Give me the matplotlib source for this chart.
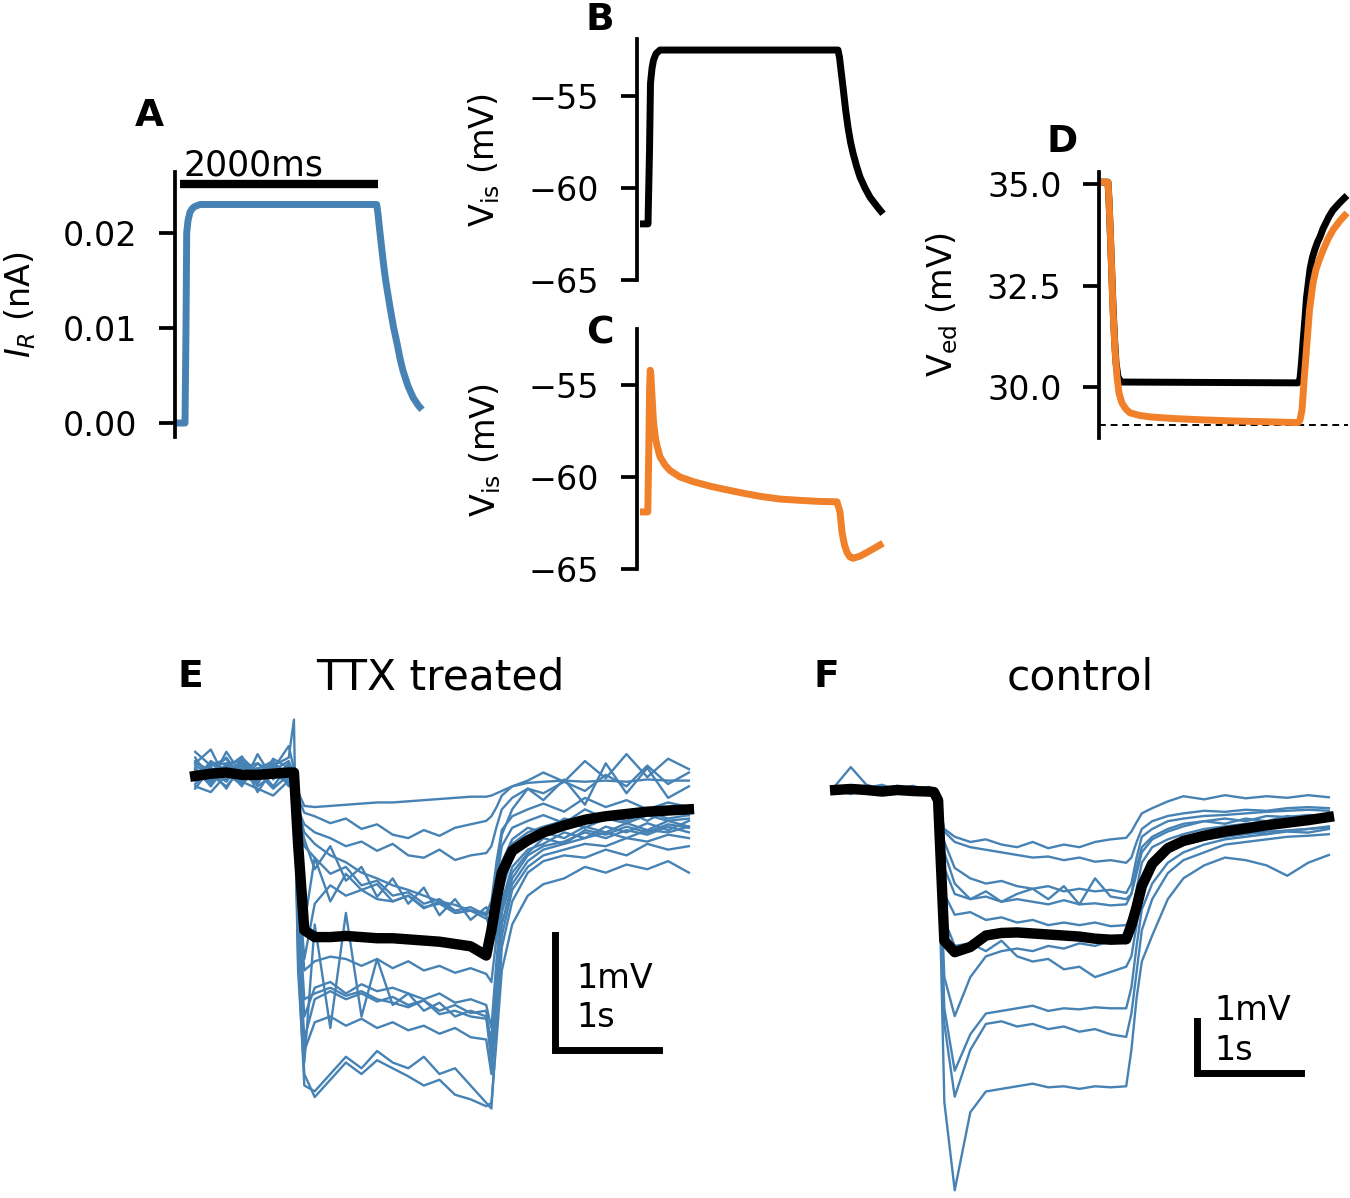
import matplotlib
matplotlib.use('Agg')
import matplotlib.pyplot as plt

plt.rcParams['font.family'] = ['DejaVu Sans']
plt.rcParams['mathtext.fontset'] = 'dejavusans'

BLUE = '#4682b4'
ORANGE = '#f0802a'

# ---------------- data ----------------
# Panel A: current I_R (nA) vs time (ms)
A_t = [10, 100, 110, 117, 130, 150, 175, 200, 250, 2017, 2030, 2050, 2080, 2100,
       2125, 2150, 2185, 2220, 2250, 2280, 2330, 2380, 2430, 2470]
A_I = [0, 0, 0.010, 0.020, 0.0213, 0.0222, 0.0226, 0.0228, 0.0230, 0.0230, 0.0220,
       0.0200, 0.0172, 0.0155, 0.0138, 0.0122, 0.0101, 0.0084, 0.0068, 0.0055,
       0.0039, 0.0027, 0.0019, 0.0014]
A_bar = [50, 2030]

# Panel B: V_is (mV)
B_t = [30, 110, 125, 135, 150, 165, 190, 230, 2010, 2025, 2040, 2060, 2085, 2110,
       2135, 2160, 2195, 2230, 2280, 2330, 2400, 2460]
B_v = [-61.95, -61.95, -58.0, -54.3, -53.5, -53.05, -52.7, -52.5, -52.5, -52.9,
       -53.6, -54.5, -55.7, -56.7, -57.5, -58.1, -58.8, -59.4, -60.0, -60.5, -61.0,
       -61.4]

# Panel C: V_is (mV)
C_t = [30, 108, 118, 126, 132, 138, 150, 165, 185, 200, 230, 280, 330, 430, 560,
       730, 900, 1080, 1230, 1430, 1630, 1830, 2000, 2030, 2050, 2075, 2100, 2130,
       2160, 2230, 2300, 2380, 2460]
C_v = [-61.9, -61.9, -58.5, -55.2, -54.2, -54.4, -55.6, -57.0, -57.9, -58.3, -58.9,
       -59.35, -59.65, -60.0, -60.25, -60.5, -60.7, -60.9, -61.05, -61.2, -61.27,
       -61.33, -61.35, -61.9, -63.0, -63.7, -64.1, -64.35, -64.42, -64.3, -64.1,
       -63.85, -63.6]

# Panel D: V_ed (mV)
D_t_black = [10, 90, 100, 110, 125, 140, 155, 170, 190, 220, 1990, 2010, 2025, 2040,
             2060, 2075, 2090, 2110, 2135, 2160, 2185, 2210, 2240, 2270, 2300, 2340,
             2410, 2480]
D_black = [35.05, 35.05, 34.6, 34.0, 33.0, 32.0, 31.2, 30.6, 30.25, 30.12, 30.1, 30.2,
           30.6, 31.1, 31.7, 32.2, 32.5, 32.9, 33.2, 33.4, 33.57, 33.7, 33.9, 34.05,
           34.2, 34.36, 34.55, 34.72]
D_t_orange = [10, 90, 100, 110, 125, 140, 160, 180, 200, 230, 270, 310, 400, 510, 750,
              1010, 1350, 1680, 1990, 2010, 2030, 2055, 2080, 2105, 2140, 2170, 2205,
              2240, 2290, 2340, 2410, 2480]
D_orange = [35.05, 35.05, 34.6, 34.0, 33.0, 31.9, 30.9, 30.25, 29.85, 29.6, 29.45,
            29.36, 29.3, 29.26, 29.22, 29.19, 29.16, 29.14, 29.12, 29.18, 29.43, 30.3,
            31.1, 31.9, 32.56, 32.9, 33.15, 33.37, 33.65, 33.87, 34.1, 34.29]
D_rest = 29.06

# Panels E/F: recordings, time (s) and voltage (mV)
T = [0.05, 0.2, 0.35, 0.5, 0.65, 0.8, 0.95, 1.0, 1.04, 1.1, 1.2, 1.35, 1.5, 1.65,
     1.8, 1.95, 2.1, 2.25, 2.4, 2.55, 2.7, 2.85, 2.9, 2.95, 3.0, 3.1, 3.25, 3.4,
     3.6, 3.8, 4.0, 4.2, 4.4, 4.6, 4.8]

ttx_mean = [-0.01, 0.01, 0.02, 0.0, 0.0, 0.01, 0.02, 0.02, -0.6,
            -1.35, -1.41, -1.41, -1.40, -1.41, -1.42, -1.42, -1.43, -1.44, -1.45, -1.47, -1.49, -1.57,
            -1.35, -1.08, -0.85, -0.66, -0.57, -0.5, -0.44, -0.39, -0.36, -0.34, -0.32, -0.31, -0.3]
ttx_01 = [0.05, -0.02, 0.08, 0.0, -0.05, 0.03, 0.0, 0.02, -0.15,
          -0.27, -0.28, -0.27, -0.26, -0.25, -0.24, -0.24, -0.23, -0.22, -0.21, -0.2, -0.19, -0.19,
          -0.18, -0.16, -0.14, -0.1, -0.07, -0.06, -0.05, -0.06, -0.05, -0.06, -0.04, -0.05, -0.05]
ttx_02 = [0.12, 0.02, 0.15, -0.04, 0.06, -0.1, 0.08, 0.05, -0.2,
          -0.33, -0.36, -0.42, -0.38, -0.47, -0.43, -0.52, -0.55, -0.48, -0.53, -0.46, -0.43, -0.4,
          -0.36, -0.28, -0.18, -0.1, -0.05, 0.02, -0.06, 0.12, -0.03, 0.18, -0.02, 0.14, 0.05]
ttx_03 = [-0.08, 0.05, -0.12, 0.1, -0.02, 0.06, -0.06, 0.0, -0.3,
          -0.43, -0.5, -0.55, -0.62, -0.58, -0.66, -0.6, -0.7, -0.72, -0.65, -0.74, -0.7, -0.68,
          -0.62, -0.45, -0.3, -0.2, -0.12, -0.16, -0.06, -0.14, 0.0, -0.1, 0.08, -0.08, 0.02]
ttx_04 = [0.2, 0.08, 0.1, 0.12, -0.15, 0.05, 0.25, 0.05, -0.3,
          -0.5, -0.6, -0.7, -0.76, -0.85, -0.9, -0.96, -1.0, -1.05, -1.1, -1.13, -1.18, -1.2,
          -1.1, -0.75, -0.48, -0.36, -0.3, -0.25, -0.32, -0.2, -0.28, -0.22, -0.3, -0.24, -0.28]
ttx_05 = [-0.1, -0.15, 0.0, -0.06, -0.12, -0.18, -0.05, -0.08, -0.35,
          -0.56, -0.82, -0.62, -0.92, -0.8, -1.06, -0.9, -1.12, -0.98, -1.22, -1.08, -1.26, -1.15,
          -1.2, -0.82, -0.52, -0.3, -0.12, -0.22, -0.04, -0.26, 0.1, -0.16, 0.06, -0.2, -0.1]
ttx_06 = [0.1, 0.22, -0.05, 0.15, 0.02, 0.1, -0.1, 0.08, -0.4,
          -0.62, -0.72, -0.86, -0.8, -0.96, -0.92, -1.05, -1.02, -1.12, -1.08, -1.18, -1.15, -1.22,
          -1.16, -0.92, -0.62, -0.46, -0.4, -0.35, -0.42, -0.3, -0.38, -0.32, -0.4, -0.3, -0.35]
ttx_07 = [-0.05, 0.12, 0.04, -0.1, 0.18, -0.04, 0.1, -0.02, -0.8,
          -1.3, -0.72, -1.1, -0.86, -1.0, -0.95, -1.1, -1.05, -1.16, -1.1, -1.2, -1.18, -1.25,
          -1.3, -1.02, -0.76, -0.56, -0.46, -0.5, -0.38, -0.42, -0.35, -0.4, -0.32, -0.38, -0.35]
ttx_08 = [0.02, -0.08, 0.1, 0.04, -0.02, 0.08, 0.03, 0.0, -0.9,
          -1.6, -1.12, -0.96, -1.05, -1.0, -1.08, -1.1, -1.05, -1.15, -1.12, -1.2, -1.18, -1.22,
          -1.4, -1.1, -0.8, -0.6, -0.5, -0.45, -0.4, -0.46, -0.38, -0.42, -0.35, -0.4, -0.38]
ttx_09 = [0.08, 0.0, -0.1, 0.06, 0.1, -0.02, 0.04, 0.02, -1.0,
          -1.7, -1.62, -1.58, -1.6, -1.66, -1.6, -1.68, -1.62, -1.7, -1.66, -1.72, -1.68, -1.73,
          -1.8, -1.4, -1.0, -0.72, -0.56, -0.5, -0.55, -0.45, -0.5, -0.42, -0.48, -0.4, -0.45]
ttx_10 = [-0.12, 0.06, 0.0, -0.08, 0.05, 0.12, -0.04, 0.03, -1.2,
          -2.1, -1.85, -1.8, -1.9, -1.82, -1.88, -1.85, -1.9, -1.95, -1.9, -1.98, -1.95, -2.0,
          -2.2, -1.6, -1.1, -0.8, -0.65, -0.6, -0.5, -0.55, -0.45, -0.5, -0.42, -0.48, -0.4]
ttx_11 = [0.15, -0.05, 0.2, 0.0, -0.08, 0.14, 0.06, 0.04, -1.3,
          -2.3, -1.95, -1.88, -1.95, -1.9, -1.97, -1.93, -2.0, -1.96, -2.05, -2.0, -2.07, -2.05,
          -2.4, -1.8, -1.2, -0.9, -0.7, -0.62, -0.58, -0.5, -0.55, -0.48, -0.52, -0.45, -0.5]
ttx_12 = [-0.04, 0.1, 0.02, 0.08, -0.06, 0.04, 0.12, 0.0, -1.5,
          -2.5, -1.3, -2.2, -1.2, -2.1, -1.6, -2.0, -1.9, -2.05, -1.98, -2.1, -2.05, -2.1,
          -2.5, -1.9, -1.3, -0.95, -0.75, -0.65, -0.6, -0.55, -0.5, -0.55, -0.48, -0.5, -0.45]
ttx_13 = [0.06, -0.1, 0.08, -0.04, 0.02, -0.12, 0.0, -0.03, -1.4,
          -2.4, -2.15, -2.1, -2.18, -2.12, -2.2, -2.15, -2.22, -2.18, -2.25, -2.2, -2.28, -2.3,
          -2.6, -2.0, -1.4, -1.0, -0.8, -0.7, -0.65, -0.6, -0.62, -0.55, -0.58, -0.52, -0.55]
ttx_14 = [0.1, 0.04, -0.06, 0.12, 0.0, 0.08, 0.15, 0.48, -1.6,
          -2.7, -2.75, -2.6, -2.45, -2.55, -2.4, -2.5, -2.55, -2.45, -2.6, -2.55, -2.7, -2.85,
          -2.9, -2.2, -1.5, -1.1, -0.85, -0.75, -0.7, -0.72, -0.65, -0.7, -0.6, -0.65, -0.62]
ttx_15 = [-0.02, 0.08, 0.14, -0.06, 0.1, 0.02, -0.08, 0.06, -1.7,
          -2.6, -2.8, -2.65, -2.5, -2.6, -2.48, -2.55, -2.62, -2.7, -2.65, -2.78, -2.82, -2.88,
          -2.85, -2.3, -1.7, -1.3, -1.05, -0.95, -0.9, -0.8, -0.85, -0.78, -0.82, -0.75, -0.85]
ttx_16 = [0.04, -0.06, 0.06, 0.16, -0.1, 0.0, 0.05, -0.05, -1.1,
          -1.95, -1.9, -1.85, -1.92, -1.88, -1.95, -1.98, -2.02, -1.96, -2.08, -2.05, -2.1, -2.12,
          -2.3, -1.7, -1.15, -0.85, -0.68, -0.55, -0.6, -0.48, -0.52, -0.45, -0.5, -0.43, -0.46]

ctl_mean = [0.0, 0.02, 0.0, -0.03, 0.0, -0.02, -0.03, -0.04, -0.2,
            -2.9, -3.12, -3.02, -2.8, -2.75, -2.74, -2.76, -2.78, -2.8, -2.82, -2.86, -2.88, -2.87,
            -2.6, -2.25, -1.85, -1.42, -1.12, -0.98, -0.88, -0.8, -0.74, -0.68, -0.63, -0.58, -0.52]
ctl_01 = [0.02, -0.05, 0.08, 0.0, 0.05, -0.04, 0.03, -0.02, -0.2,
          -0.75, -0.9, -1.0, -0.95, -1.05, -1.1, -1.0, -1.12, -1.05, -1.1, -1.0, -0.95, -0.92,
          -0.8, -0.62, -0.45, -0.35, -0.22, -0.12, -0.18, -0.1, -0.16, -0.12, -0.15, -0.1, -0.14]
ctl_02 = [-0.05, 0.04, -0.02, 0.06, -0.06, 0.02, -0.04, -0.06, -0.2,
          -0.8, -1.0, -1.1, -1.15, -1.2, -1.25, -1.3, -1.28, -1.35, -1.3, -1.38, -1.35, -1.4,
          -1.3, -1.0, -0.75, -0.6, -0.5, -0.45, -0.4, -0.42, -0.38, -0.4, -0.35, -0.33, -0.35]
ctl_03 = [0.08, 0.44, 0.1, 0.02, -0.06, 0.04, 0.0, 0.02, -0.3,
          -1.2, -1.8, -2.1, -1.95, -2.15, -2.0, -1.9, -2.1, -1.85, -2.2, -1.7, -2.05, -2.1,
          -2.0, -1.6, -1.2, -0.95, -0.8, -0.7, -0.6, -0.65, -0.55, -0.6, -0.5, -0.55, -0.5]
ctl_04 = [-0.04, 0.02, 0.06, -0.08, 0.03, -0.02, 0.05, 0.0, -0.3,
          -1.5, -2.0, -2.1, -2.05, -2.15, -2.1, -2.15, -2.2, -2.12, -2.2, -2.18, -2.22, -2.2,
          -2.0, -1.5, -1.1, -0.9, -0.75, -0.65, -0.6, -0.55, -0.6, -0.5, -0.52, -0.48, -0.5]
ctl_05 = [0.0, -0.08, 0.04, 0.1, 0.0, 0.06, -0.05, 0.03, -0.4,
          -2.0, -2.4, -2.35, -2.5, -2.45, -2.55, -2.5, -2.6, -2.55, -2.6, -2.55, -2.62, -2.6,
          -2.4, -1.9, -1.4, -1.1, -0.95, -0.85, -0.75, -0.7, -0.65, -0.6, -0.62, -0.55, -0.52]
ctl_06 = [0.05, 0.0, -0.06, 0.04, 0.08, -0.03, 0.02, -0.04, -0.4,
          -2.5, -3.0, -2.95, -3.1, -2.9, -3.2, -3.3, -3.25, -3.45, -3.4, -3.6, -3.5, -3.4,
          -3.2, -2.6, -1.9, -1.5, -1.2, -1.05, -0.95, -0.85, -0.8, -0.85, -0.78, -0.75, -0.72]
ctl_07 = [-0.06, 0.05, 0.0, -0.03, 0.06, 0.02, -0.02, 0.01, -0.5,
          -3.6, -4.35, -3.6, -3.2, -3.1, -3.05, -3.1, -3.0, -3.05, -2.95, -3.0, -2.9, -2.95,
          -2.8, -2.3, -1.8, -1.45, -1.2, -1.05, -0.95, -0.9, -0.85, -0.8, -0.78, -0.75, -0.7]
ctl_08 = [0.03, 0.08, -0.04, 0.0, -0.05, 0.05, 0.04, -0.02, -0.6,
          -4.2, -5.4, -4.7, -4.3, -4.25, -4.2, -4.15, -4.25, -4.2, -4.22, -4.18, -4.2, -4.2,
          -3.8, -3.0, -2.3, -1.8, -1.4, -1.2, -1.05, -0.95, -0.9, -0.85, -0.8, -0.82, -0.75]
ctl_09 = [-0.02, -0.06, 0.05, 0.03, -0.04, 0.0, 0.06, 0.02, -0.7,
          -4.5, -5.9, -5.0, -4.5, -4.45, -4.55, -4.5, -4.6, -4.55, -4.65, -4.6, -4.7, -4.75,
          -4.3, -3.5, -2.7, -2.1, -1.6, -1.35, -1.2, -1.05, -1.0, -0.95, -0.9, -0.88, -0.85]
ctl_10 = [0.04, -0.02, 0.02, -0.05, 0.03, 0.08, -0.03, 0.0, -0.8,
          -6.0, -7.7, -6.2, -5.8, -5.75, -5.7, -5.65, -5.72, -5.7, -5.75, -5.7, -5.72, -5.7,
          -5.0, -4.0, -3.3, -2.8, -2.1, -1.7, -1.45, -1.3, -1.35, -1.45, -1.65, -1.4, -1.25]
ctl_11 = [0.06, 0.0, 0.04, -0.04, -0.02, 0.05, 0.0, -0.05, -0.3,
          -1.0, -1.5, -1.7, -1.8, -1.75, -1.85, -1.9, -1.85, -1.95, -1.9, -1.95, -1.92, -1.98,
          -1.8, -1.3, -0.9, -0.75, -0.6, -0.55, -0.5, -0.48, -0.45, -0.42, -0.4, -0.38, -0.4]

ttx_traces = [ttx_01, ttx_02, ttx_03, ttx_04, ttx_05, ttx_06, ttx_07, ttx_08,
              ttx_09, ttx_10, ttx_11, ttx_12, ttx_13, ttx_14, ttx_15, ttx_16]
ctl_traces = [ctl_01, ctl_02, ctl_03, ctl_04, ctl_05, ctl_06, ctl_07, ctl_08,
              ctl_09, ctl_10, ctl_11]

# ---------------- figure ----------------
W, H = 1350, 1198
fig = plt.figure(figsize=(W / 100, H / 100), dpi=100)
fig.patch.set_facecolor('white')


def axpx(l, r, t, b):
    return fig.add_axes([l / W, 1 - b / H, (r - l) / W, (b - t) / H])


def style(ax, ticks, labels):
    for s in ['top', 'right', 'bottom']:
        ax.spines[s].set_visible(False)
    ax.spines['left'].set_linewidth(2.7)
    ax.set_xticks([])
    ax.set_yticks(ticks)
    ax.set_yticklabels(labels)
    ax.tick_params(axis='y', length=11.5, width=2.7, pad=15.5, labelsize=24)
    ax.patch.set_alpha(0)


def ftext(x, y, s, **kw):
    fig.text(x / W, 1 - y / H, s, **kw)


LW = 5.0
KW = dict(lw=LW, solid_joinstyle='round', solid_capstyle='butt', clip_on=False)

# A
axA = axpx(175, 422, 172, 437)
axA.plot(A_t, A_I, color=BLUE, **KW)
axA.plot(A_bar, [0.0252, 0.0252], color='k', lw=6, solid_capstyle='butt', clip_on=False)
axA.text(90, 0.0261, '2000ms', fontsize=25, ha='left', va='baseline')
axA.set_xlim(0, 2470)
axA.set_ylim(-0.00147, 0.02642)
style(axA, [0.0, 0.01, 0.02], ['0.00', '0.01', '0.02'])

# B
axB = axpx(637, 883, 39, 280)
axB.plot(B_t, B_v, color='k', **KW)
axB.set_xlim(0, 2460)
axB.set_ylim(-65, -51.9)
style(axB, [-65, -60, -55], ['\u221265', '\u221260', '\u221255'])

# C
axC = axpx(637, 883, 329, 569)
axC.plot(C_t, C_v, color=ORANGE, **KW)
axC.set_xlim(0, 2460)
axC.set_ylim(-65, -51.96)
style(axC, [-65, -60, -55], ['\u221265', '\u221260', '\u221255'])

# D
axD = axpx(1099, 1348, 172, 438)
axD.axhline(D_rest, color='k', lw=1.4, ls=(0, (3.5, 2.5)))
axD.plot(D_t_black, D_black, color='k', **KW)
axD.plot(D_t_orange, D_orange, color=ORANGE, **KW)
axD.set_xlim(0, 2490)
axD.set_ylim(28.74, 35.3)
style(axD, [30.0, 32.5, 35.0], ['30.0', '32.5', '35.0'])

# y labels
ftext(20, 305, '$I_R$ (nA)', rotation=90, ha='center', va='center', fontsize=24)
ftext(484, 160, 'V$_\\mathrm{is}$ (mV)', rotation=90, ha='center', va='center', fontsize=24)
ftext(485, 450, 'V$_\\mathrm{is}$ (mV)', rotation=90, ha='center', va='center', fontsize=24)
ftext(942, 305, 'V$_\\mathrm{ed}$ (mV)', rotation=90, ha='center', va='center', fontsize=24)

# panel letters
for (x, y, s) in [(149, 116, 'A'), (600, 20, 'B'), (600, 333, 'C'), (1062, 142, 'D'),
                  (190, 677, 'E'), (826, 677, 'F')]:
    ftext(x, y, s, ha='center', va='center', fontsize=27, fontweight='bold')

ftext(440, 677, 'TTX treated', ha='center', va='center', fontsize=30.5)
ftext(1080, 677, 'control', ha='center', va='center', fontsize=30.5)

# E
axE = axpx(190, 692, 715, 1112)
for tr in ttx_traces:
    axE.plot(T, tr, color=BLUE, lw=1.7, clip_on=False)
axE.plot(T, ttx_mean, color='k', lw=7.5, solid_joinstyle='round', clip_on=False)
axE.plot([3.51, 3.51, 4.51], [-1.39, -2.39, -2.39], color='k', lw=5,
         solid_joinstyle='miter', solid_capstyle='projecting', clip_on=False)
axE.text(3.72, -1.85, '1mV', fontsize=24, ha='left', va='baseline')
axE.text(3.72, -2.19, '1s', fontsize=24, ha='left', va='baseline')
axE.set_xlim(0, 4.83)
axE.set_ylim(-2.93, 0.52)
axE.axis('off')

# F
axF = axpx(830, 1332, 760, 1197)
for tr in ctl_traces:
    axF.plot(T, tr, color=BLUE, lw=1.7, clip_on=False)
axF.plot(T, ctl_mean, color='k', lw=7.5, solid_joinstyle='round', clip_on=False)
axF.plot([3.53, 3.53, 4.53], [-4.44, -5.44, -5.44], color='k', lw=5,
         solid_joinstyle='miter', solid_capstyle='projecting', clip_on=False)
axF.text(3.70, -4.42, '1mV', fontsize=24, ha='left', va='baseline')
axF.text(3.70, -5.19, '1s', fontsize=24, ha='left', va='baseline')
axF.set_xlim(0, 4.83)
axF.set_ylim(-7.83, 0.577)
axF.axis('off')

fig.savefig('out.png', dpi=100, facecolor='white')
